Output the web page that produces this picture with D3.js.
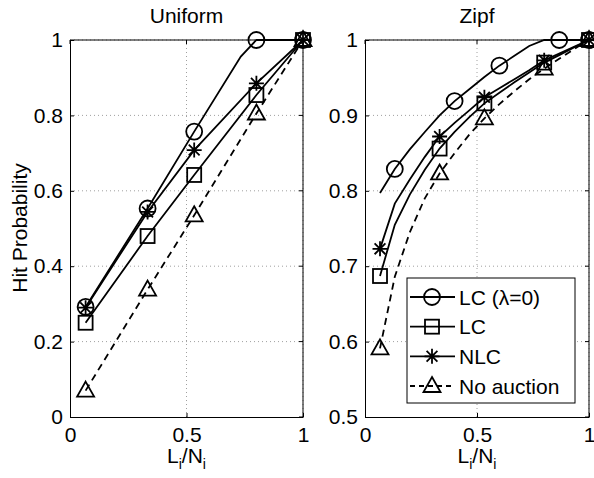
<!DOCTYPE html>
<html>
<head>
<meta charset="utf-8">
<script src="https://cdn.jsdelivr.net/npm/d3@7"></script>
<style>
  body { margin: 0; background: #fff; }
  svg { font-family: "Liberation Sans", Arial, sans-serif; }
</style>
</head>
<body>
<div id="chart"></div>
<script>
// Series names and legend labels
const seriesNames = ["LC (λ=0)", "LC", "NLC", "No auction"];
const seriesMarkers = ["circle", "square", "star", "triangle"];

// Uniform panel: line points (x, y)
const uniformX = [0.067, 0.333, 0.533, 0.733, 0.8, 1];
const uniformCircle = [0.292, 0.553, 0.757, 0.956, 1.0, 1.0];
const uniformSquare = [0.25, 0.48, 0.642, null, 0.854, 1.0];
const uniformStar = [0.29, 0.544, 0.708, null, 0.885, 1.0];
const uniformTriangle = [0.07, 0.338, 0.535, null, 0.805, 1.0];
const uniformMarkerIdx = [0, 1, 2, 4, 5];

// Zipf panel: line points at every L/N step
const zipfX = [0.067, 0.133, 0.2, 0.267, 0.333, 0.4, 0.467, 0.533, 0.6, 0.667, 0.733, 0.8, 0.867, 0.933, 1];
const zipfCircle = [0.797, 0.829, 0.855, 0.878, 0.90, 0.919, 0.935, 0.951, 0.966, 0.979, 0.992, 1.0, 1.0, 1.0, 1.0];
const zipfSquare = [0.687, 0.755, 0.795, 0.828, 0.856, 0.878, 0.898, 0.916, 0.93, 0.944, 0.957, 0.970, 0.98, 0.99, 1.0];
const zipfStar = [0.723, 0.783, 0.815, 0.845, 0.872, 0.89, 0.907, 0.924, 0.936, 0.948, 0.96, 0.973, 0.982, 0.991, 1.0];
const zipfTriangle = [0.591, 0.686, 0.745, 0.79, 0.823, 0.85, 0.875, 0.896, 0.915, 0.932, 0.948, 0.962, 0.975, 0.988, 1.0];
const zipfCircleMarkerIdx = [1, 5, 8, 12, 14];
const zipfOtherMarkerIdx = [0, 4, 7, 11, 14];

const xTicks = [0, 0.5, 1];
const uniformYTicks = [0, 0.2, 0.4, 0.6, 0.8, 1];
const zipfYTicks = [0.5, 0.6, 0.7, 0.8, 0.9, 1];

const W = 594, H = 478;
const FS = 21;
const LW = 1.8;
const svg = d3.select("#chart").append("svg")
    .attr("width", W).attr("height", H);

const panels = [
    {
        title: "Uniform", left: 70, right: 303, yDomain: [0, 1], yTicks: uniformYTicks,
        yFmt: d => d === 0 ? "0" : d === 1 ? "1" : d3.format(".1f")(d),
        series: [
            { vals: uniformCircle, x: uniformX, marks: uniformMarkerIdx },
            { vals: uniformSquare, x: uniformX, marks: uniformMarkerIdx },
            { vals: uniformStar, x: uniformX, marks: uniformMarkerIdx },
            { vals: uniformTriangle, x: uniformX, marks: uniformMarkerIdx }
        ]
    },
    {
        title: "Zipf", left: 365, right: 589, yDomain: [0.5, 1], yTicks: zipfYTicks,
        yFmt: d => d === 1 ? "1" : d3.format(".1f")(d),
        series: [
            { vals: zipfCircle, x: zipfX, marks: zipfCircleMarkerIdx },
            { vals: zipfSquare, x: zipfX, marks: zipfOtherMarkerIdx },
            { vals: zipfStar, x: zipfX, marks: zipfOtherMarkerIdx },
            { vals: zipfTriangle, x: zipfX, marks: zipfOtherMarkerIdx }
        ]
    }
];

const plotTop = 40, plotBottom = 417;

// Marker drawing
function drawMarker(g, type, cx, cy) {
    const m = g.append("g").attr("transform", `translate(${cx},${cy})`)
        .attr("fill", "none").attr("stroke", "#000").attr("stroke-width", LW);
    if (type === "circle") {
        m.append("circle").attr("r", 8);
    } else if (type === "square") {
        m.append("rect").attr("x", -7).attr("y", -7).attr("width", 14).attr("height", 14);
    } else if (type === "triangle") {
        m.append("path").attr("d", "M0,-9L8.5,6L-8.5,6Z");
    } else if (type === "star") {
        const r = 7.5;
        m.append("path").attr("d",
            `M${-r},0L${r},0M0,${-r}L0,${r}` +
            `M${-r * 0.72},${-r * 0.72}L${r * 0.72},${r * 0.72}M${-r * 0.72},${r * 0.72}L${r * 0.72},${-r * 0.72}`);
    }
}

panels.forEach(p => {
    const x = d3.scaleLinear().domain([0, 1]).range([p.left, p.right]);
    const y = d3.scaleLinear().domain(p.yDomain).range([plotBottom, plotTop]);
    const g = svg.append("g");

    // Grid
    g.append("g").selectAll("line").data(p.yTicks.slice(1))
        .join("line")
        .attr("x1", p.left).attr("x2", p.right)
        .attr("y1", d => y(d)).attr("y2", d => y(d))
        .attr("stroke", "#888").attr("stroke-width", 0.8).attr("stroke-dasharray", "1,3");
    g.append("g").selectAll("line").data(xTicks.slice(1))
        .join("line")
        .attr("x1", d => x(d)).attr("x2", d => x(d))
        .attr("y1", plotTop).attr("y2", plotBottom)
        .attr("stroke", "#888").attr("stroke-width", 0.8).attr("stroke-dasharray", "1,3");

    // Axes
    const xAxis = g.append("g").attr("transform", `translate(0,${plotBottom})`)
        .call(d3.axisBottom(x).tickValues(xTicks).tickSizeInner(-4).tickSizeOuter(0)
            .tickPadding(10).tickFormat(d => d === 0 ? "0" : d === 1 ? "1" : "0.5"));
    const yAxis = g.append("g").attr("transform", `translate(${p.left},0)`)
        .call(d3.axisLeft(y).tickValues(p.yTicks).tickSizeInner(-4).tickSizeOuter(0)
            .tickPadding(7).tickFormat(p.yFmt));
    [xAxis, yAxis].forEach(a => {
        a.select(".domain").attr("stroke", "#000");
        a.selectAll(".tick line").attr("stroke", "#000");
        a.selectAll("text").attr("font-size", FS).attr("fill", "#000")
            .attr("font-family", "Liberation Sans, Arial, sans-serif");
    });
    // Top and right borders with inward ticks
    const frame = g.append("g").attr("stroke", "#000");
    frame.append("line").attr("x1", p.left).attr("x2", p.right).attr("y1", plotTop).attr("y2", plotTop);
    frame.append("line").attr("x1", p.right).attr("x2", p.right).attr("y1", plotTop).attr("y2", plotBottom);
    frame.append("g").selectAll("line").data(xTicks).join("line")
        .attr("x1", d => x(d)).attr("x2", d => x(d)).attr("y1", plotTop).attr("y2", plotTop + 4);
    frame.append("g").selectAll("line").data(p.yTicks).join("line")
        .attr("x1", p.right).attr("x2", p.right - 4).attr("y1", d => y(d)).attr("y2", d => y(d));

    // Title
    g.append("text").attr("x", (p.left + p.right) / 2).attr("y", 23)
        .attr("text-anchor", "middle").attr("font-size", FS).text(p.title);

    // X label L_i/N_i
    const xl = g.append("text").attr("x", (p.left + p.right) / 2).attr("y", 463)
        .attr("text-anchor", "middle").attr("font-size", FS);
    xl.append("tspan").text("L");
    xl.append("tspan").attr("dy", 6).attr("font-size", 14).text("i");
    xl.append("tspan").attr("dy", -6).text("/N");
    xl.append("tspan").attr("dy", 6).attr("font-size", 14).text("i");

    // Lines
    const line = d3.line().x(d => x(d[0])).y(d => y(d[1]));
    p.series.forEach((s, i) => {
        const pts = s.x.map((xv, j) => [xv, s.vals[j]]).filter(d => d[1] !== null);
        g.append("path").datum(pts)
            .attr("d", line)
            .attr("fill", "none").attr("stroke", "#000").attr("stroke-width", LW)
            .attr("stroke-dasharray", i === 3 ? "7,5" : null);
    });
    // Markers
    p.series.forEach((s, i) => {
        s.marks.forEach(j => drawMarker(g, seriesMarkers[i], x(s.x[j]), y(s.vals[j])));
    });
});

// Y axis label
svg.append("text")
    .attr("transform", "translate(27,228) rotate(-90)")
    .attr("text-anchor", "middle").attr("font-size", FS).text("Hit Probability");

// Legend
const lg = svg.append("g");
lg.append("rect").attr("x", 407).attr("y", 278).attr("width", 168).attr("height", 125)
    .attr("fill", "#fff").attr("stroke", "#000").attr("stroke-width", 1);
const legendY = d3.scalePoint().domain(seriesNames).range([297, 386]);
seriesNames.forEach((name, i) => {
    const yy = legendY(name);
    lg.append("line").attr("x1", 410).attr("x2", 455).attr("y1", yy).attr("y2", yy)
        .attr("stroke", "#000").attr("stroke-width", LW)
        .attr("stroke-dasharray", i === 3 ? "5,4" : null);
    drawMarker(lg, seriesMarkers[i], 432, yy);
    lg.append("text").attr("x", 459).attr("y", yy + 7.5).attr("font-size", FS).text(name);
});
</script>
</body>
</html>
